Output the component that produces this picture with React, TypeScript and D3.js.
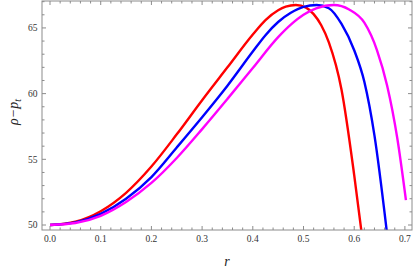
import React from "react";
import * as d3 from "d3";

// radius samples and rho - p_t values
const redR = [0, 0.05, 0.1, 0.15, 0.2, 0.25, 0.3, 0.35, 0.4, 0.425, 0.45, 0.465, 0.485, 0.505, 0.52, 0.535, 0.55, 0.575, 0.6, 0.614];
const redV = [50, 50.25, 51.05, 52.45, 54.45, 56.9, 59.5, 62.0, 64.5, 65.6, 66.35, 66.62, 66.75, 66.55, 66.05, 65.2, 63.9, 60.3, 53.8, 49.6];

const blueR = [0, 0.05, 0.1, 0.15, 0.2, 0.25, 0.3, 0.35, 0.4, 0.425, 0.45, 0.475, 0.5, 0.526, 0.55, 0.575, 0.6, 0.62, 0.64, 0.664];
const blueV = [50, 50.2, 50.85, 52.0, 53.65, 55.9, 58.2, 60.6, 63.2, 64.45, 65.45, 66.15, 66.6, 66.74, 66.5, 65.3, 63.3, 60.9, 56.8, 49.6];

const magR = [0, 0.05, 0.1, 0.15, 0.2, 0.25, 0.3, 0.35, 0.4, 0.45, 0.475, 0.5, 0.525, 0.56, 0.59, 0.62, 0.645, 0.665, 0.685, 0.702];
const magV = [50, 50.15, 50.7, 51.75, 53.2, 55.1, 57.3, 59.6, 61.95, 64.3, 65.25, 66.0, 66.48, 66.74, 66.4, 65.4, 63.3, 60.6, 56.6, 51.9];

const xTicks = [0, 0.1, 0.2, 0.3, 0.4, 0.5, 0.6, 0.7];
const yTicks = [50, 55, 60, 65];

const series = [
  { r: redR, v: redV, color: "#ff0000" },
  { r: blueR, v: blueV, color: "#0000ff" },
  { r: magR, v: magV, color: "#ff00ff" },
];

const W = 415;
const H = 272;
const left = 42;
const right = 412;
const top = 1;
const bottom = 230;

export default function App() {
  const x = d3.scaleLinear().domain([-0.0158, 0.714]).range([left, right]);
  const y = d3.scaleLinear().domain([49.62, 67.05]).range([bottom, top]);

  const line = d3
    .line<[number, number]>()
    .x((d) => x(d[0]))
    .y((d) => y(d[1]))
    .curve(d3.curveMonotoneX);

  const xMinor = d3.range(0, 0.72, 0.02).filter((t) => Math.abs(t * 10 - Math.round(t * 10)) > 0.01);
  const yMinor = d3.range(50, 67.01, 1).filter((t) => t % 5 !== 0);
  const frame = "#8c8c8c";
  const font = "'Liberation Serif', 'Times New Roman', serif";

  return (
    <svg width={W} height={H} style={{ position: "absolute", left: 0, top: 0 }}>
      <defs>
        <clipPath id="plot">
          <rect x={left} y={top} width={right - left} height={bottom - top} />
        </clipPath>
      </defs>

      <g clipPath="url(#plot)">
        {series.map((s, i) => (
          <path
            key={i}
            d={line(s.r.map((r, j) => [r, s.v[j]] as [number, number])) || ""}
            fill="none"
            stroke={s.color}
            strokeWidth={2.4}
            strokeLinejoin="round"
          />
        ))}
      </g>

      {/* frame */}
      <rect x={left} y={top} width={right - left} height={bottom - top} fill="none" stroke={frame} strokeWidth={1} />

      {/* x ticks, bottom and top, inward */}
      {xTicks.map((t) => (
        <g key={"xt" + t}>
          <line x1={x(t)} x2={x(t)} y1={bottom} y2={bottom - 4} stroke={frame} />
          <line x1={x(t)} x2={x(t)} y1={top} y2={top + 4} stroke={frame} />
          <text x={x(t)} y={242} textAnchor="middle" fontFamily={font} fontSize={9.5} fill="#333">
            {t.toFixed(1)}
          </text>
        </g>
      ))}
      {xMinor.map((t) => (
        <g key={"xm" + t}>
          <line x1={x(t)} x2={x(t)} y1={bottom} y2={bottom - 2.5} stroke={frame} />
          <line x1={x(t)} x2={x(t)} y1={top} y2={top + 2.5} stroke={frame} />
        </g>
      ))}

      {/* y ticks, left and right, inward */}
      {yTicks.map((t) => (
        <g key={"yt" + t}>
          <line x1={left} x2={left + 4} y1={y(t)} y2={y(t)} stroke={frame} />
          <line x1={right} x2={right - 4} y1={y(t)} y2={y(t)} stroke={frame} />
          <text x={37.5} y={y(t) + 3.3} textAnchor="end" fontFamily={font} fontSize={9.5} fill="#333">
            {t}
          </text>
        </g>
      ))}
      {yMinor.map((t) => (
        <g key={"ym" + t}>
          <line x1={left} x2={left + 2.5} y1={y(t)} y2={y(t)} stroke={frame} />
          <line x1={right} x2={right - 2.5} y1={y(t)} y2={y(t)} stroke={frame} />
        </g>
      ))}

      {/* axis labels */}
      <text x={227} y={266} textAnchor="middle" fontFamily={font} fontSize={14} fontStyle="italic" fill="#222">
        r
      </text>
      <text
        transform={`translate(18,${112}) rotate(-90)`}
        textAnchor="middle"
        fontFamily={font}
        fontSize={14}
        fontStyle="italic"
        fill="#222"
      >
        ρ−p
        <tspan fontSize={10} dy={3}>t</tspan>
      </text>
    </svg>
  );
}
